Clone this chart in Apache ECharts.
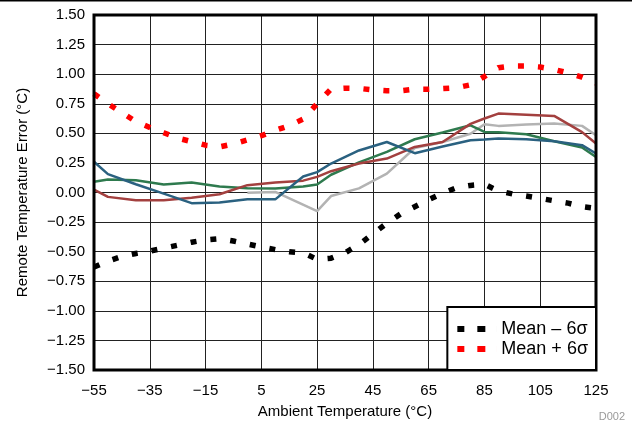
<!DOCTYPE html>
<html><head><meta charset="utf-8">
<script src="https://cdn.jsdelivr.net/npm/echarts@6/dist/echarts.min.js"></script>
<style>html,body{margin:0;padding:0;background:#fff}#c{width:632px;height:426px}</style>
</head><body><div id="c"></div>
<script>
// Measured device curves (temperature in °C, error in °C)
const tempsMeas = [-55,-50,-40,-30,-20,-10,0,10,20,25,30,40,50,60,70,80,85,90,100,110,120,125];
const blueVals  = [0.26,0.155,0.07,-0.01,-0.09,-0.085,-0.058,-0.058,0.135,0.172,0.245,0.355,0.427,0.332,0.388,0.442,0.448,0.456,0.45,0.433,0.40,0.33];
const greenVals = [0.09,0.11,0.104,0.068,0.084,0.05,0.036,0.034,0.05,0.068,0.15,0.255,0.343,0.45,0.507,0.568,0.512,0.51,0.492,0.433,0.38,0.30];
const redVals   = [0.025,-0.037,-0.065,-0.065,-0.045,-0.015,0.062,0.085,0.10,0.132,0.18,0.245,0.287,0.385,0.427,0.58,0.625,0.667,0.657,0.647,0.51,0.414];
const tempsGray = [0,10,25,30,40,50,60,70,80,85,90,100,110,120,125];
const grayVals  = [-0.003,0.005,-0.158,-0.03,0.035,0.16,0.376,0.427,0.497,0.577,0.563,0.575,0.583,0.563,0.484];
// Statistical limits
const tempsStat = [-55,-50,-45,-40,-35,-30,-25,-20,-15,-10,-5,0,5,10,15,20,25,30,35,40,45,50,55,60,65,70,75,80,85,90,95,100,105,110,115,120,125];
const meanPlus  = [0.835,0.75,0.675,0.60,0.55,0.505,0.46,0.43,0.40,0.385,0.41,0.445,0.48,0.525,0.565,0.62,0.75,0.875,0.882,0.88,0.867,0.86,0.86,0.873,0.873,0.878,0.885,0.91,0.98,1.055,1.07,1.07,1.06,1.04,1.01,0.975,0.925];
const meanMinus = [-0.63,-0.58,-0.54,-0.515,-0.495,-0.47,-0.445,-0.42,-0.40,-0.39,-0.41,-0.435,-0.46,-0.483,-0.50,-0.51,-0.565,-0.555,-0.51,-0.44,-0.35,-0.26,-0.18,-0.12,-0.06,-0.005,0.04,0.06,0.07,0.013,-0.012,-0.03,-0.05,-0.07,-0.09,-0.12,-0.135];
// Axis ticks
const xTicks = [-55,-35,-15,5,25,45,65,85,105,125];
const nameMinus = 'Mean \u2013 6\u03c3';
const namePlus = 'Mean + 6\u03c3';

const zip = (xs, ys) => xs.map((x, i) => [x, ys[i]]);
const FONT = 'Liberation Sans, Arial, sans-serif';
const dashIcon = 'path://M0,0h7v6h-7zM20,0h8v6h-8zM38.99,0h0.01v6h-0.01z';
const fmtNum = (v, d) => (v < 0 ? '\u2212' : '') + Math.abs(v).toFixed(d);

const chart = echarts.init(document.getElementById('c'), null, {renderer: 'canvas'});
function solid(name, xs, ys, color) {
  return {name, type: 'line', data: zip(xs, ys), showSymbol: false, symbol: 'none',
    lineStyle: {color, width: 2.5}, itemStyle: {color}, z: 3, animation: false};
}
function dotted(name, xs, ys, color) {
  return {name, type: 'line', data: zip(xs, ys), showSymbol: false, symbol: 'none',
    lineStyle: {color, width: 5.5, type: [6, 14], cap: 'butt'}, itemStyle: {color}, z: 4, animation: false};
}
chart.setOption({
  animation: false,
  grid: {left: 94, right: 36, top: 15, bottom: 56, show: true, borderColor: '#000', borderWidth: 3, backgroundColor: 'transparent', z: 10},
  xAxis: {
    type: 'value', min: -55, max: 125,
    name: 'Ambient Temperature (\u00b0C)', nameLocation: 'middle', nameGap: 34,
    nameTextStyle: {fontFamily: FONT, fontSize: 15, color: '#000'},
    axisLine: {show: false},
    axisTick: {show: false, customValues: xTicks},
    axisLabel: {customValues: xTicks, formatter: v => fmtNum(v, 0), fontFamily: FONT, fontSize: 15, color: '#000', margin: 13},
    splitLine: {show: true, lineStyle: {color: '#222', width: 1}}
  },
  yAxis: {
    type: 'value', min: -1.5, max: 1.5, interval: 0.25,
    name: 'Remote Temperature Error (\u00b0C)', nameLocation: 'middle', nameGap: 64,
    nameTextStyle: {fontFamily: FONT, fontSize: 15, color: '#000'},
    axisLine: {show: false}, axisTick: {show: false},
    axisLabel: {formatter: v => fmtNum(v, 2), fontFamily: FONT, fontSize: 15, color: '#000', margin: 9},
    splitLine: {show: true, lineStyle: {color: '#222', width: 1}}
  },
  legend: {
    data: [{name: nameMinus, icon: dashIcon}, {name: namePlus, icon: dashIcon}],
    orient: 'vertical', right: 36, bottom: 56,
    backgroundColor: '#fff', borderColor: '#000', borderWidth: 2,
    padding: [13, 8, 12, 10], itemWidth: 39, itemHeight: 6, itemGap: 2,
    textStyle: {fontFamily: FONT, fontSize: 18, color: '#000'}, z: 20
  },
  series: [
    solid('Device A', tempsGray, grayVals, '#B3B3B3'),
    solid('Device B', tempsMeas, greenVals, '#2E7A4E'),
    solid('Device C', tempsMeas, redVals, '#A3403F'),
    solid('Device D', tempsMeas, blueVals, '#2A6180'),
    dotted(nameMinus, tempsStat, meanMinus, '#000000'),
    dotted(namePlus, tempsStat, meanPlus, '#FF0000')
  ],
  graphic: [
    {type: 'rect', left: 0, top: 0, shape: {width: 632, height: 1.5}, style: {fill: '#000'}},
    {type: 'text', right: 7, bottom: 4, style: {text: 'D002', fontFamily: FONT, fontSize: 11, fill: '#9a9a9a'}}
  ]
});
</script></body></html>
